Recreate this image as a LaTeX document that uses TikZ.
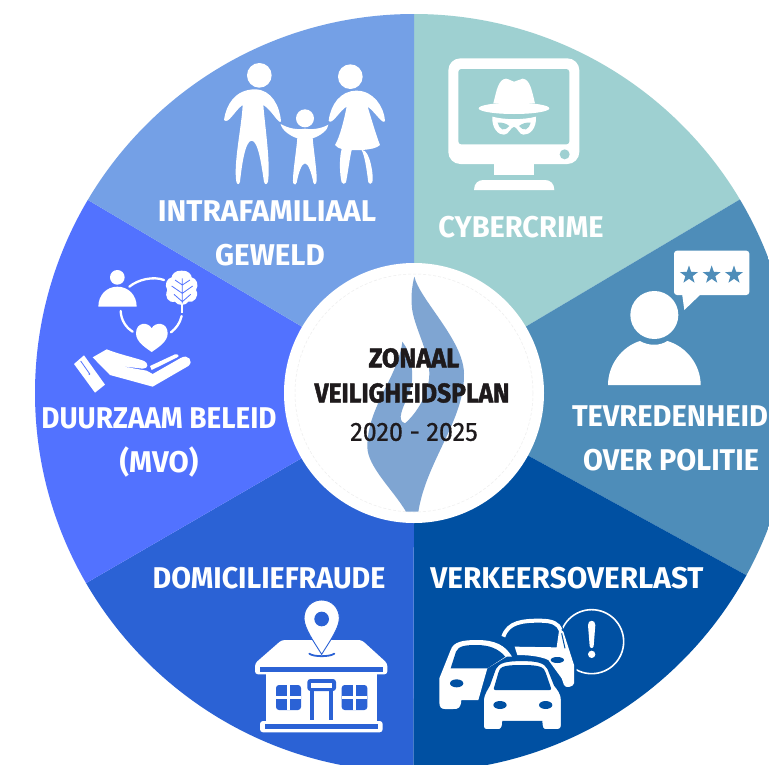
\documentclass[tikz,border=0pt]{standalone}
\usepackage{fontspec}
\usetikzlibrary{shapes.geometric}
\newfontfamily\lblfont[FakeStretch=.93]{Fira Sans}
\newfontfamily\yearfont[FakeStretch=.95,FakeBold=.5]{Fira Sans}
\newfontfamily\ttlfont[FakeStretch=.94,FakeBold=1.6]{Fira Sans}
\definecolor{segfam}{HTML}{74A0E6}
\definecolor{segcyb}{HTML}{9ED0D1}
\definecolor{segtev}{HTML}{4E8DB9}
\definecolor{segver}{HTML}{0050A2}
\definecolor{segdom}{HTML}{2B62D5}
\definecolor{segduu}{HTML}{5272FF}
\definecolor{flamec}{HTML}{7FA5D2}
\definecolor{ink}{HTML}{1E1A1C}
\tikzset{
  zoomed/.style={shift={#1},scale=1/3},
  seglabel/.style={text=white,font={\lblfont\bfseries\fontsize{30}{36}\selectfont},inner sep=0pt,anchor=center,transform shape,xscale=#1},
  seglabel/.default=1,
  ttlbold/.style={text=ink,font={\ttlfont\bfseries\fontsize{27}{30}\selectfont},inner sep=0pt,anchor=center},
  ttlplain/.style={text=ink,font={\yearfont\fontsize{26.5}{30}\selectfont},inner sep=0pt,anchor=center},
  starmark/.style={star,star points=5,star point ratio=2.5,fill=segtev,draw=none,minimum size=19pt,inner sep=0pt},
}
\begin{document}
\begin{tikzpicture}[x=1pt,y=-1pt]
\useasboundingbox (0,0) rectangle (769,764);
\clip (0,0) rectangle (769,764);
\fill[white] (0,0) rectangle (769,764);
\coordinate (c) at (414,393);
\coordinate (st) at (414,-400);
\coordinate (sur) at (1064,7);
\coordinate (slr) at (1078,757);
\coordinate (sb) at (413,1000);
\coordinate (sll) at (-238,771);
\coordinate (sul) at (-238,7);
% wheel
\begin{scope}
\clip (c) circle [radius=379];
\fill[segcyb] (c) -- (st) -- (sur) -- cycle;
\fill[segtev] (c) -- (sur) -- (slr) -- cycle;
\fill[segver] (c) -- (slr) -- (sb) -- cycle;
\fill[segdom] (c) -- (sb) -- (sll) -- cycle;
\fill[segduu] (c) -- (sll) -- (sul) -- cycle;
\fill[segfam] (c) -- (sul) -- (st) -- cycle;
\end{scope}
% family
\begin{scope}[zoomed={(200,50)}]
\fill[white] (178,76) circle [radius=37];
\fill[white] (72,210) .. controls (78,165) and (105,118) .. (165,118) .. controls (215,118) and (240,170) .. (243,215)
  .. controls (235,222) and (215,180) .. (190,165) .. controls (195,230) and (212,340) .. (204,395)
  .. controls (200,405) and (195,405) .. (192,395) .. controls (185,350) and (175,272) .. (155,272)
  .. controls (135,272) and (125,350) .. (120,395) .. controls (117,405) and (112,405) .. (109,395)
  .. controls (100,340) and (125,230) .. (128,165) .. controls (105,180) and (85,225) .. (72,210) -- cycle;
\fill[white] (315,205) circle [radius=27];
\fill[white] (242,222) .. controls (265,235) and (290,240) .. (315,236) .. controls (340,240) and (365,235) .. (385,224)
  .. controls (385,240) and (360,258) .. (338,265) .. controls (342,310) and (355,390) .. (348,400)
  .. controls (345,405) and (342,403) .. (340,398) .. controls (335,370) and (325,340) .. (315,340)
  .. controls (305,340) and (295,370) .. (290,398) .. controls (288,405) and (283,405) .. (280,400)
  .. controls (275,390) and (288,310) .. (292,265) .. controls (270,258) and (245,240) .. (242,222) -- cycle;
\fill[white] (451,80) circle [radius=37];
\fill[white] (386,212) .. controls (392,165) and (420,122) .. (470,122) .. controls (520,122) and (552,170) .. (555,212)
  .. controls (550,228) and (525,185) .. (503,170) .. controls (515,210) and (530,260) .. (540,285)
  .. controls (530,295) and (510,298) .. (487,300) .. controls (510,300) and (522,380) .. (517,397)
  .. controls (514,403) and (507,403) .. (505,397) .. controls (500,360) and (495,320) .. (485,300)
  -- (455,300) .. controls (450,320) and (445,360) .. (438,397) .. controls (435,403) and (428,403) .. (425,397)
  .. controls (418,370) and (418,320) .. (425,297) .. controls (418,295) and (410,292) .. (405,285)
  .. controls (420,260) and (432,210) .. (440,170) .. controls (420,180) and (395,228) .. (386,212) -- cycle;
\end{scope}
% monitor
\begin{scope}[zoomed={(430,40)}]
\fill[white,rounded corners=12pt] (55,55) rectangle (448,372);
\fill[segcyb,rounded corners=3pt] (85,87) rectangle (418,313);
\fill[segcyb] (404,343) circle [radius=15];
\fill[white] (192,370) rectangle (313,405);
\fill[white] (132,450) .. controls (132,430) and (145,420) .. (160,420) -- (345,420) .. controls (360,420) and (373,430) .. (373,450) -- cycle;
\fill[white] (252,205) ellipse [x radius=106, y radius=17];
\fill[white] (190,190) .. controls (200,150) and (205,118) .. (228,116) .. controls (240,118) and (245,124) .. (252,125)
  .. controls (260,124) and (268,118) .. (278,116) .. controls (300,118) and (305,150) .. (315,190) -- cycle;
\fill[white] (187,230) .. controls (225,240) and (280,240) .. (318,230) .. controls (320,265) and (300,285) .. (280,284)
  .. controls (268,284) and (262,262) .. (252,260) .. controls (242,262) and (236,284) .. (222,284)
  .. controls (205,285) and (185,265) .. (187,230) -- cycle;
\fill[segcyb] (203,248) .. controls (215,246) and (230,251) .. (238,258) .. controls (232,266) and (224,270) .. (217,268) .. controls (210,265) and (205,257) .. (203,248) -- cycle;
\fill[segcyb] (302,248) .. controls (290,246) and (275,251) .. (267,258) .. controls (273,266) and (281,270) .. (288,268) .. controls (295,265) and (300,257) .. (302,248) -- cycle;
\end{scope}
% rated person
\begin{scope}[zoomed={(590,240)}]
\fill[white] (193,225) circle [radius=72];
\fill[white] (54,435) .. controls (54,375) and (95,320) .. (150,303) .. controls (175,318) and (210,318) .. (232,303) .. controls (290,320) and (332,375) .. (332,435) -- cycle;
\fill[white,rounded corners=3pt] (252,32) rectangle (478,165);
\fill[white] (276,160) -- (283,210) -- (335,160) -- cycle;
\node[starmark] (st1) at (297,105) {};
\node[starmark] (st2) at (365,105) {};
\node[starmark] (st3) at (432,105) {};
\end{scope}
% sustainability
\begin{scope}[zoomed={(60,260)}]
\fill[white] (172,52) circle [radius=22];
\fill[white] (115,140) .. controls (115,105) and (140,80) .. (172,80) .. controls (205,80) and (230,105) .. (230,140) -- cycle;
\draw[white,line width=2.3pt,line cap=round] (208,80) .. controls (235,58) and (280,48) .. (312,60);
\draw[white,line width=2.3pt,line cap=round] (182,153) .. controls (183,180) and (198,203) .. (218,215);
\draw[white,line width=2.3pt,line cap=round] (333,217) .. controls (348,205) and (360,190) .. (365,168);
\fill[white] (365,32) .. controls (385,30) and (395,45) .. (395,52) .. controls (410,55) and (418,75) .. (408,90)
  .. controls (420,110) and (400,130) .. (385,125) .. controls (378,138) and (352,138) .. (345,125)
  .. controls (325,130) and (312,110) .. (322,90) .. controls (312,75) and (320,55) .. (335,52) .. controls (335,45) and (345,30) .. (365,32) -- cycle;
\draw[white,line width=1.8pt] (367,130) -- (367,160);
\draw[segduu,line width=.8pt] (367,55) -- (367,130) (367,75) -- (345,60) (367,75) -- (390,60) (367,100) -- (335,78) (367,100) -- (398,78) (367,125) -- (342,103) (367,125) -- (392,103);
\fill[white] (275,276) .. controls (255,262) and (228,245) .. (228,220) .. controls (228,185) and (265,185) .. (275,205) .. controls (285,185) and (323,185) .. (323,220) .. controls (323,245) and (295,262) .. (275,276) -- cycle;
\fill[white] (42,312) -- (72,286) -- (135,374) -- (105,398) -- cycle;
\draw[segduu,line width=.8pt] (62,303) -- (88,340);
\fill[segduu] (88,342) circle [radius=3];
\fill[white] (98,292) -- (140,268) .. controls (175,282) and (220,292) .. (250,302) .. controls (268,310) and (265,326) .. (248,326)
  -- (180,318) -- (260,332) -- (278,342) -- (362,294) .. controls (385,280) and (402,305) .. (385,318)
  -- (278,380) -- (150,345) -- cycle;
\fill[white] (270,318) -- (345,283) .. controls (355,280) and (360,290) .. (350,293) -- (275,330) -- cycle;
\end{scope}
% house
\begin{scope}[zoomed={(240,595)}]
\fill[white,rounded corners=3pt] (45,238) -- (45,205) -- (125,135) -- (365,135) -- (442,205) -- (442,238) -- cycle;
\fill[segdom] (60,215) rectangle (430,230);
\fill[white] (78,236) rectangle (410,378);
\fill[white,rounded corners=3pt] (60,378) rectangle (428,412);
\fill[segdom] (75,388) rectangle (415,402);
\fill[segdom,rounded corners=3pt] (108,270) rectangle (183,345);
\fill[segdom,rounded corners=3pt] (305,270) rectangle (382,345);
\fill[white] (141,270) rectangle (151,345);
\fill[white] (108,303) rectangle (183,313);
\fill[white] (339,270) rectangle (349,345);
\fill[white] (305,303) rectangle (382,313);
\fill[segdom,rounded corners=3pt] (202,252) rectangle (288,288);
\fill[white] (213,264) rectangle (276,280);
\fill[segdom] (211,285) rectangle (222,375);
\fill[segdom] (266,285) rectangle (278,375);
\draw[segdom,line width=1.8pt,line cap=round] (208,176) .. controls (220,186) and (270,186) .. (283,176);
\fill[white,draw=segdom,line width=.9pt] (245,178) .. controls (225,145) and (192,100) .. (192,70) .. controls (192,38) and (215,15) .. (245,15) .. controls (275,15) and (298,38) .. (298,70) .. controls (298,100) and (265,145) .. (245,178) -- cycle;
\fill[segdom] (245,72) circle [radius=22];
\end{scope}
% cars
\begin{scope}[zoomed={(430,600)}]
\draw[white,line width=1.6pt] (485,125) circle [radius=96];
\fill[white] (474,75) .. controls (474,58) and (496,58) .. (496,75) -- (491,138) .. controls (490,146) and (480,146) .. (479,138) -- cycle;
\fill[white] (485,163) circle [radius=11];
% back car
\fill[segver] (215,110) .. controls (235,50) and (290,50) .. (330,52) .. controls (375,52) and (395,70) .. (405,95) -- (440,200) -- (440,265) -- (395,270) -- (300,250) -- (215,150) -- cycle;
\draw[white,line width=4pt] (220,110) .. controls (235,65) and (280,62) .. (330,62) .. controls (370,62) and (385,72) .. (392,90);
\fill[white] (388,85) -- (400,95) -- (432,195) -- (432,250) .. controls (430,262) and (405,265) .. (402,255) -- (395,235) -- (355,180) .. controls (330,168) and (290,165) .. (262,165) -- (254,140) -- (380,142) -- cycle;
\fill[segver] (382,180) ellipse [x radius=20, y radius=9];
\draw[segver,line width=1pt] (395,100) -- (405,145);
% left car
\fill[segver] (55,130) .. controls (90,105) and (200,110) .. (250,170) -- (175,300) -- (100,335) -- (20,335) -- (20,230) -- cycle;
\fill[white] (28,235) -- (62,150) .. controls (70,125) and (100,120) .. (140,120) .. controls (195,120) and (225,135) .. (246,170) -- (230,170) -- (172,205) -- (145,300) -- (94,300) .. controls (92,325) and (85,327) .. (70,327) -- (45,327) .. controls (32,327) and (28,320) .. (28,305) -- cycle;
\fill[segver] (62,205) -- (78,155) .. controls (85,137) and (110,135) .. (140,135) .. controls (175,135) and (205,145) .. (226,170) -- (172,205) -- cycle;
\fill[segver] (80,250) ellipse [x radius=20, y radius=12];
% front car
\fill[white,draw=segver,line width=2.2pt] (158,300) .. controls (160,280) and (172,265) .. (177,255) -- (195,205) .. controls (205,185) and (230,180) .. (275,180) .. controls (320,180) and (345,185) .. (355,205) -- (375,255) .. controls (385,268) and (396,280) .. (396,300) -- (396,375) .. controls (396,388) and (388,391) .. (378,391) -- (348,391) .. controls (336,391) and (334,380) .. (334,366) -- (220,366) .. controls (220,380) and (216,391) .. (204,391) -- (172,391) .. controls (162,391) and (158,385) .. (158,375) -- cycle;
\fill[segver,rounded corners=2pt] (190,270) -- (207,212) .. controls (215,198) and (240,195) .. (275,195) .. controls (310,195) and (335,198) .. (345,212) -- (365,270) -- cycle;
\fill[segver] (210,315) ellipse [x radius=20, y radius=12];
\fill[segver] (347,315) ellipse [x radius=20, y radius=12];
\end{scope}
% hub
\node[circle,fill=white,draw=none,minimum size=260pt,inner sep=0pt] (hub) at (c) {};
\draw[black!7,line width=.5pt,densely dashed] (c) circle [radius=119];
\begin{scope}[zoomed={(280,260)}]
\fill[flamec] (403,50) .. controls (420,120) and (550,240) .. (552,340) .. controls (555,480) and (440,600) .. (415,755)
  -- (378,755) .. controls (340,690) and (262,620) .. (262,560) .. controls (262,440) and (355,350) .. (367,245)
  .. controls (395,280) and (400,340) .. (395,370) .. controls (388,410) and (365,440) .. (362,470)
  .. controls (362,482) and (368,490) .. (375,490) .. controls (410,460) and (448,400) .. (448,340)
  .. controls (448,270) and (395,190) .. (395,130) .. controls (393,100) and (398,70) .. (403,50) -- cycle;
\end{scope}
% labels
\node[seglabel=1.07] (lfam1) at (267,211) {INTRAFAMILIAAL};
\node[seglabel=1.06] (lfam2) at (270,255) {GEWELD};
\node[seglabel=1.04] (lcyb) at (521,227) {CYBERCRIME};
\node[seglabel=1.04] (ltev1) at (670,416) {TEVREDENHEID};
\node[seglabel=1.035] (ltev2) at (671,460) {OVER POLITIE};
\node[seglabel=1] (lduu1) at (159,418) {DUURZAAM BELEID};
\node[seglabel=1.05] (lduu2) at (159,462) {(MVO)};
\node[seglabel=1.027] (ldom) at (269,578) {DOMICILIEFRAUDE};
\node[seglabel=1.067] (lver) at (567,578) {VERKEERSOVERLAST};
\node[ttlbold] (t1) at (414,358) {ZONAAL};
\node[ttlbold,transform shape,xscale=.97] (t2) at (412,393) {VEILIGHEIDSPLAN};
\node[ttlplain] (t3) at (414,432) {2020 - 2025};
\end{tikzpicture}
\end{document}
